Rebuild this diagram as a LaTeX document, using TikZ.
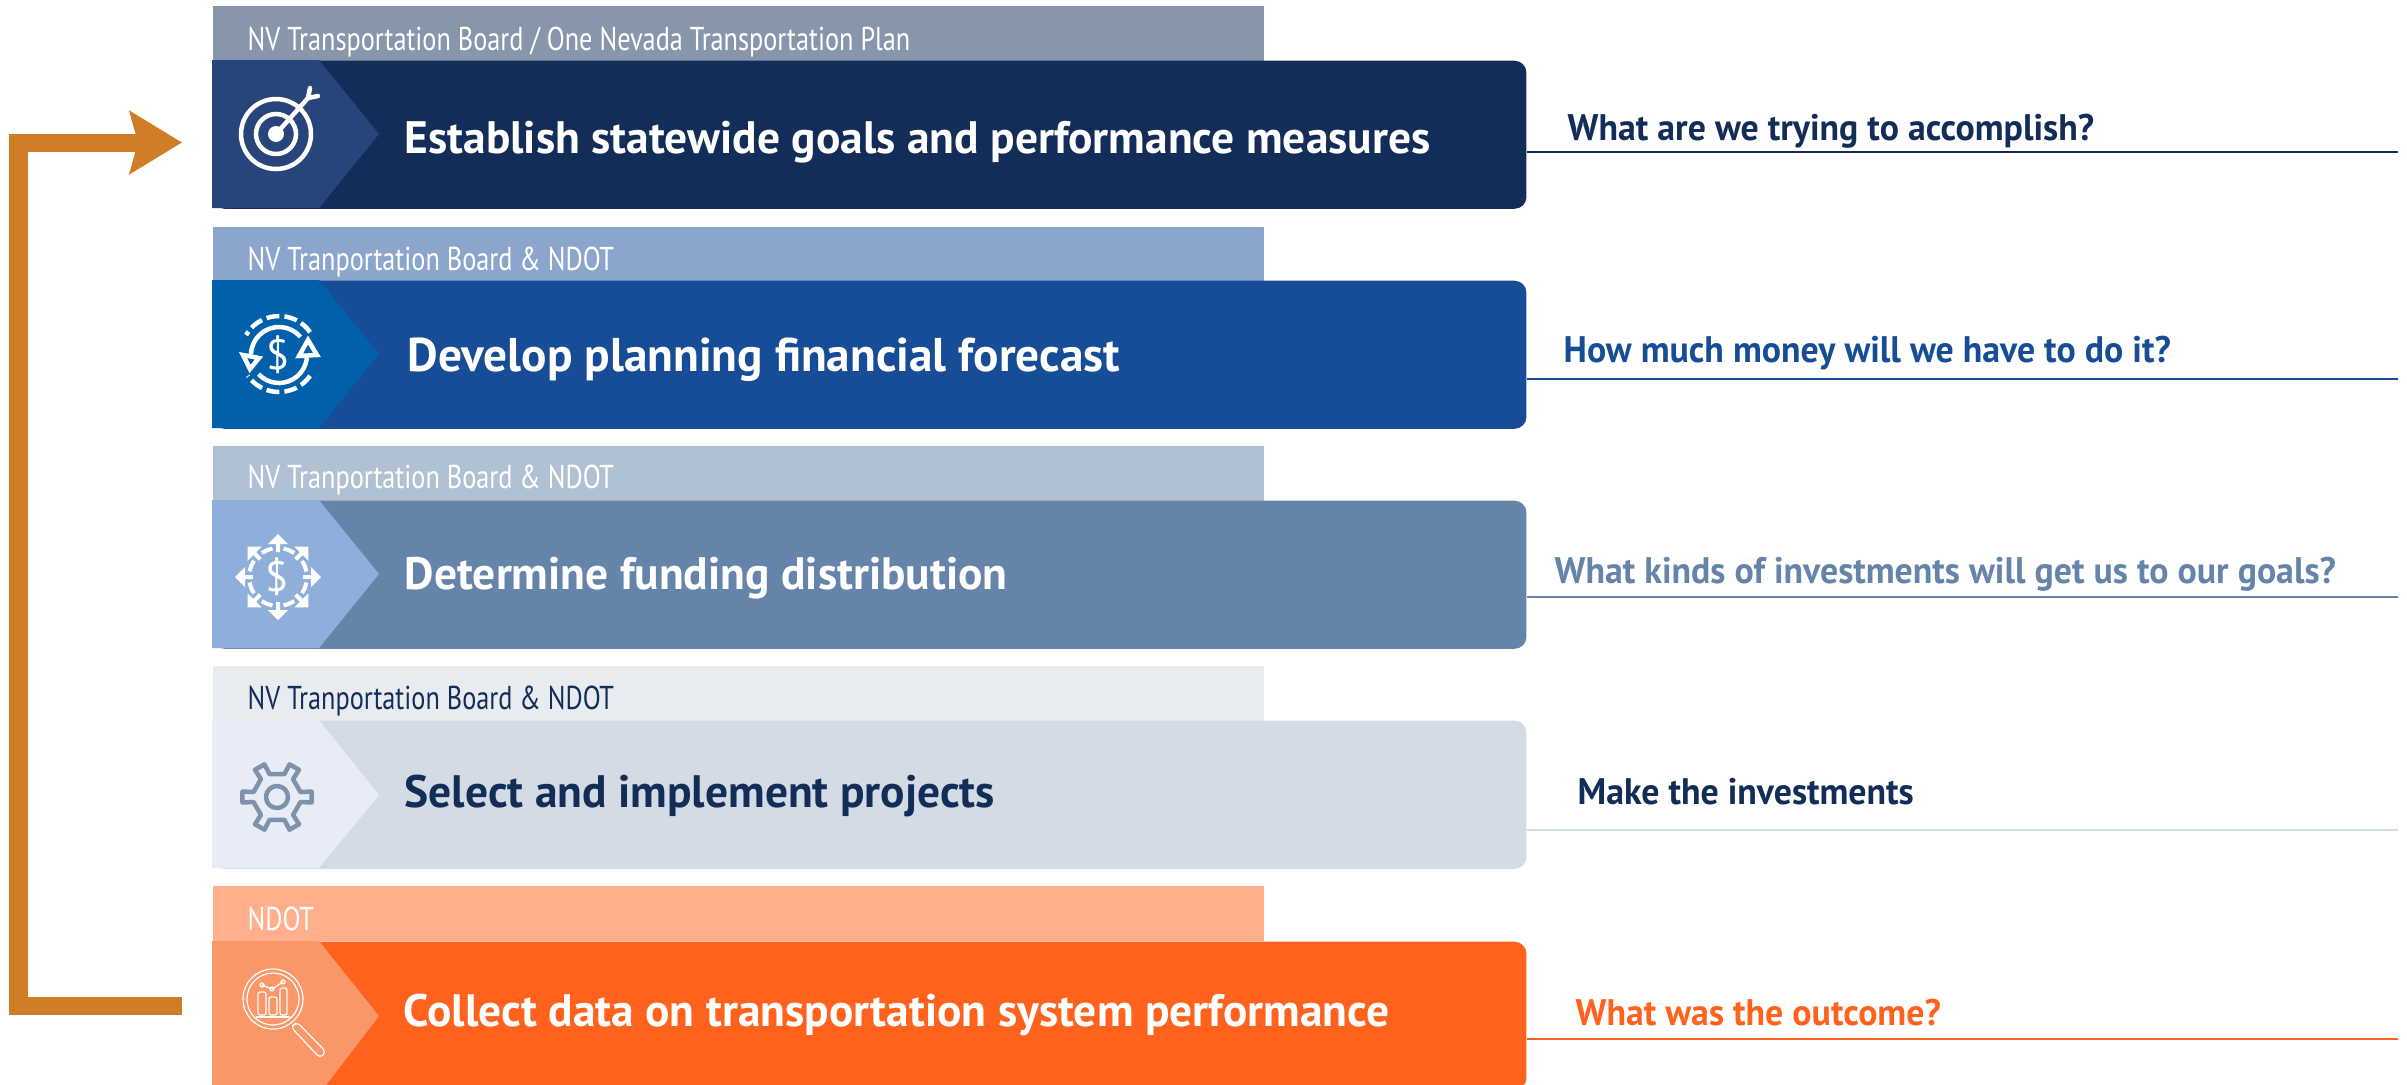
\documentclass[tikz,border=0pt]{standalone}
\usepackage{fontspec}
\setmainfont{PT Sans}
\newfontfamily\headfont[FakeStretch=0.795]{PT Sans}
\newfontfamily\askfont[FakeStretch=0.97]{PT Sans}
\usetikzlibrary{arrows.meta}
\definecolor{navybar}{HTML}{122E58}
\definecolor{navychev}{HTML}{27457B}
\definecolor{navyhead}{HTML}{8896AB}
\definecolor{bluebar}{HTML}{174C97}
\definecolor{bluechev}{HTML}{0060AB}
\definecolor{bluehead}{HTML}{8BA5CC}
\definecolor{steelbar}{HTML}{6584AA}
\definecolor{steelchev}{HTML}{8DAFD9}
\definecolor{steelhead}{HTML}{B0C1D4}
\definecolor{palebar}{HTML}{D3DBE5}
\definecolor{palechev}{HTML}{E7ECF6}
\definecolor{palehead}{HTML}{E8ECF1}
\definecolor{gearline}{HTML}{7F92AB}
\definecolor{orangebar}{HTML}{FF621C}
\definecolor{orangechev}{HTML}{F99768}
\definecolor{orangehead}{HTML}{FFAF8C}
\definecolor{loopline}{HTML}{CF7D27}
\tikzset{
  headbox/.style={anchor=north west,minimum width=10.51cm,minimum height=0.55cm,inner sep=0pt},
  barbox/.style={anchor=north west,minimum width=13.13cm,minimum height=1.48cm,inner sep=0pt,rounded corners=0.12cm},
  headtext/.style={anchor=base west,inner sep=0pt,font=\headfont\fontsize{9.4}{9.4}\selectfont},
  titletext/.style={anchor=base west,inner sep=0pt,font=\bfseries\fontsize{12.93}{13}\selectfont},
  asktext/.style={anchor=base west,inner sep=0pt,font=\askfont\bfseries\fontsize{10.5}{10.5}\selectfont},
  dollar/.style={inner sep=0pt,font=\fontsize{12}{12}\selectfont},
  rule/.style={line width=0.025cm},
}
\begin{document}
\begin{tikzpicture}[x=0.01cm,y=-0.01cm]
  \useasboundingbox (0,0) rectangle (2407,1084);
  % row 1
  \node (head1) [headbox,fill=navyhead] at (212,5) {};
  \node (bar1) [barbox,fill=navybar] at (212,60) {};
  \fill[navychev] (212,60) -- (319,60) -- (379,134) -- (319,208) -- (212,208) -- cycle;
  \node (head1t) [headtext,text=white] at (247,50) {NV Transportation Board / One Nevada Transportation Plan};
  \node (title1) [titletext,text=white] at (404,153) {Establish statewide goals and performance measures};
  \coordinate (end1) at (2398,152);
  \draw[rule,navybar] (bar1.east |- end1) -- (end1);
  \node (ask1) [asktext,text=navybar] at (1567,140) {What are we trying to accomplish?};
  % target icon
  \begin{scope}[white,line width=0.045cm,line cap=round]
    \draw (276,134) circle (35);
    \draw (276,134) circle (20);
    \fill (276,134) circle (8);
    \draw (276,134) -- (308,98);
    \draw (310,88) -- (308,98) -- (318,96);
  \end{scope}
  % row 2
  \node (head2) [headbox,fill=bluehead] at (212,226) {};
  \node (bar2) [barbox,fill=bluebar] at (212,280) {};
  \fill[bluechev] (212,280) -- (319,280) -- (379,354) -- (319,428) -- (212,428) -- cycle;
  \node (head2t) [headtext,text=white] at (247,270) {NV Tranportation Board \& NDOT};
  \node (title2) [titletext,text=white,font=\bfseries\fontsize{13.45}{13.4}\selectfont] at (407,371) {Develop planning financial forecast};
  \coordinate (end2) at (2398,379);
  \draw[rule,bluebar] (bar2.east |- end2) -- (end2);
  \node (ask2) [asktext,text=bluebar] at (1563,362) {How much money will we have to do it?};
  % money cycle icon
  \begin{scope}[white,line width=0.045cm]
    \node (usd2) [dollar,text=white] at (278,355) {\$};
    \draw[shift={(279,354)},dash pattern=on 0.13cm off 0.05cm] (-35:38) arc (-35:-150:38);
    \draw[shift={(279,354)},dash pattern=on 0.13cm off 0.05cm] (35:38) arc (35:145:38);
    \draw[shift={(279,355)}] (-178:28) arc (-178:-40:28);
    \draw[shift={(279,355)}] (5:28) arc (5:137:28);
    \draw[line join=miter] (243,355) -- (259,358) -- (250,369) -- cycle;
    \draw[line join=miter] (299,356) -- (317,355) -- (308,340) -- cycle;
  \end{scope}
  % row 3
  \node (head3) [headbox,fill=steelhead] at (212,445) {};
  \node (bar3) [barbox,fill=steelbar] at (212,500) {};
  \fill[steelchev] (212,500) -- (319,500) -- (379,574) -- (319,648) -- (212,648) -- cycle;
  \node (head3t) [headtext,text=white] at (247,488) {NV Tranportation Board \& NDOT};
  \node (title3) [titletext,text=white] at (404,589) {Determine funding distribution};
  \coordinate (end3) at (2398,597);
  \draw[rule,steelbar] (bar3.east |- end3) -- (end3);
  \node (ask3) [asktext,text=steelbar] at (1554,583) {What kinds of investments will get us to our goals?};
  % spreading arrows icon
  \begin{scope}[white,line width=0.04cm]
    \node (usd3) [dollar,text=white] at (277,577) {\$};
    \foreach \a in {0,45,...,315} {
      \draw[shift={(278,577)}] (\a+11:29) arc (\a+11:\a+34:29);
      \fill[shift={(278,577)},rotate=\a] (25,-2) -- (33,-2) -- (33,-10) -- (43,0) -- (33,10) -- (33,2) -- (25,2) -- cycle;
    }
  \end{scope}
  % row 4
  \node (head4) [headbox,fill=palehead] at (212,665) {};
  \node (bar4) [barbox,fill=palebar] at (212,720) {};
  \fill[palechev] (212,720) -- (319,720) -- (379,795) -- (319,868) -- (212,868) -- cycle;
  \node (head4t) [headtext,text=navybar] at (247,709) {NV Tranportation Board \& NDOT};
  \node (title4) [titletext,text=navybar] at (404,807) {Select and implement projects};
  \coordinate (end4) at (2398,830);
  \draw[rule,palebar] (bar4.east |- end4) -- (end4);
  \node (ask4) [asktext,text=navybar] at (1577,804) {Make the investments};
  % gear icon
  \begin{scope}[gearline,line width=0.045cm,line join=round]
    \draw (277,797) circle (11);
    \draw[shift={(277,797)}] (-12:24)
      \foreach \a in {0,60,...,300} {
        -- (\a-12:24) -- (\a-9:35) -- (\a+9:35) -- (\a+12:24) -- (\a+48:24)
      } -- cycle;
  \end{scope}
  % row 5
  \node (head5) [headbox,fill=orangehead] at (212,885) {};
  \node (bar5) [barbox,fill=orangebar] at (212,941) {};
  \fill[orangechev] (212,941) -- (319,941) -- (379,1016) -- (323,1089) -- (212,1089) -- cycle;
  \node (head5t) [headtext,text=white] at (247,930) {NDOT};
  \node (title5) [titletext,text=white] at (403,1026) {Collect data on transportation system performance};
  \coordinate (end5) at (2398,1039);
  \draw[rule,orangebar] (bar5.east |- end5) -- (end5);
  \node (ask5) [asktext,text=orangebar] at (1575,1025) {What was the outcome?};
  % magnifier icon
  \begin{scope}[white,line width=0.012cm]
    \draw (273,999) circle (30);
    \draw (273,999) circle (26);
    \draw[rounded corners=0.02cm] (258,1015) rectangle (266,992);
    \draw[rounded corners=0.02cm] (269,1015) rectangle (277,997);
    \draw[rounded corners=0.02cm] (280,1015) rectangle (287,988);
    \draw[line width=0.02cm] (256,1017) -- (290,1017);
    \draw (262,985) -- (272,989) -- (283,982);
    \draw (262,985) circle (2) (272,989) circle (2) (283,982) circle (2);
    \draw[rounded corners=0.04cm] (297,1022) -- (326,1052) -- (320,1058) -- (291,1027) -- cycle;
  \end{scope}
  % feedback loop
  \coordinate (loopstart) at (182,1005.5);
  \coordinate (loopdown) at (18.5,1005.5);
  \coordinate (loopup) at (18.5,142.5);
  \coordinate (loopend) at (182,142.5);
  \draw[loopline,line width=0.18cm,-{Stealth[length=0.52cm,width=0.62cm,inset=0.08cm]}] (loopstart) -- (loopdown) -- (loopup) -- (loopend);
\end{tikzpicture}
\end{document}
